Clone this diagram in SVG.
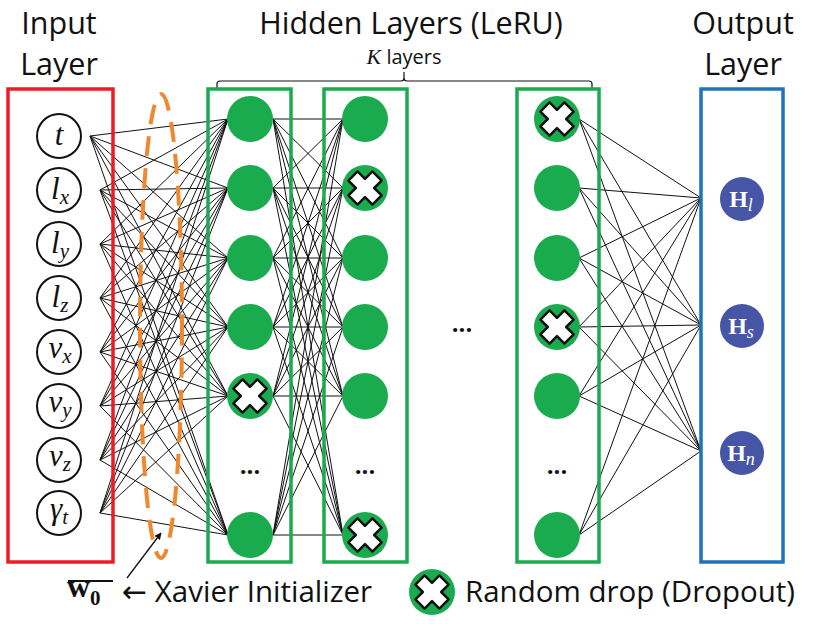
<svg xmlns="http://www.w3.org/2000/svg" xmlns:xlink="http://www.w3.org/1999/xlink" width="820" height="624" viewBox="0 0 820 624">
<style>
.title{font-family:"Open Sans","Liberation Sans",sans-serif;font-size:30.5px;fill:#111;text-anchor:middle}
.box{fill:none;stroke-width:3.5}
.inp{fill:#fff;stroke:#111;stroke-width:2}
.math{font-family:"Liberation Serif","DejaVu Serif",serif;font-style:italic;font-size:31px;fill:#111;text-anchor:middle}
.hid{fill:#19ab4e}
.out{fill:#4655a6}
.olab{font-family:"Liberation Serif","DejaVu Serif",serif;font-weight:bold;font-size:24px;fill:#fff;text-anchor:middle}
.dots{font-family:"Open Sans","Liberation Sans",sans-serif;font-weight:bold;font-size:24px;fill:#111;text-anchor:middle}
.conn path{fill:none;stroke:#111;stroke-width:1}
.txt{font-family:"Open Sans","Liberation Sans",sans-serif;font-size:29.5px;fill:#111}
</style>
<defs>
<g id="xm">
<circle r="23" fill="#19ab4e"/>
<polygon transform="rotate(45)" points="-6.5,-17 6.5,-17 6.5,-6.5 17,-6.5 17,6.5 6.5,6.5 6.5,17 -6.5,17 -6.5,6.5 -17,6.5 -17,-6.5 -6.5,-6.5" fill="#fff" stroke="#111" stroke-width="2.5" stroke-linejoin="round"/>
</g>
<marker id="ah" viewBox="0 0 10 10" refX="9" refY="5" markerWidth="7" markerHeight="7" orient="auto" markerUnits="userSpaceOnUse">
<path d="M0,0L10,5L0,10z" fill="#111"/>
</marker>
</defs>
<rect width="820" height="624" fill="#fff"/>

<!-- titles -->
<text class="title" x="59" y="34">Input</text>
<text class="title" x="59" y="75">Layer</text>
<text class="title" x="411" y="34">Hidden Layers (LeRU)</text>
<text x="404" y="64" style="font-family:'Open Sans','Liberation Sans',sans-serif;font-size:20px;fill:#111;text-anchor:middle"><tspan style="font-family:'Liberation Serif',serif;font-style:italic;font-size:22px">K</tspan> layers</text>
<text class="title" x="743" y="34">Output</text>
<text class="title" x="743" y="75">Layer</text>
<path d="M217,89V84Q217,81 220,81H401Q404,81 404,78V72M404,78Q404,81 407,81H589Q592,81 592,84V89" fill="none" stroke="#111" stroke-width="1.2"/>

<!-- connectors -->
<g class="conn" id="connectors">
<path d="M90 136L228 119M90 136L228 188M90 136L228 258M90 136L228 327M90 136L228 396M90 136L228 535"/>
<path d="M100 190L228 119M100 190L228 188M100 190L228 258M100 190L228 327M100 190L228 396M100 190L228 535"/>
<path d="M100 244L228 119M100 244L228 188M100 244L228 258M100 244L228 327M100 244L228 396M100 244L228 535"/>
<path d="M100 298L228 119M100 298L228 188M100 298L228 258M100 298L228 327M100 298L228 396M100 298L228 535"/>
<path d="M100 352L228 119M100 352L228 188M100 352L228 258M100 352L228 327M100 352L228 396M100 352L228 535"/>
<path d="M100 406L228 119M100 406L228 188M100 406L228 258M100 406L228 327M100 406L228 396M100 406L228 535"/>
<path d="M100 460L228 119M100 460L228 188M100 460L228 258M100 460L228 327M100 460L228 396M100 460L228 535"/>
<path d="M100 513L228 119M100 513L228 188M100 513L228 258M100 513L228 327M100 513L228 396M100 513L228 535"/>
<path d="M273 119L343 119M273 119L343 188M273 119L343 258M273 119L343 327M273 119L343 396M273 119L343 535"/>
<path d="M273 188L343 119M273 188L343 188M273 188L343 258M273 188L343 327M273 188L343 396M273 188L343 535"/>
<path d="M273 258L343 119M273 258L343 188M273 258L343 258M273 258L343 327M273 258L343 396M273 258L343 535"/>
<path d="M273 327L343 119M273 327L343 188M273 327L343 258M273 327L343 327M273 327L343 396M273 327L343 535"/>
<path d="M273 396L343 119M273 396L343 188M273 396L343 258M273 396L343 327M273 396L343 396M273 396L343 535"/>
<path d="M273 535L343 119M273 535L343 188M273 535L343 258M273 535L343 327M273 535L343 396M273 535L343 535"/>
<path d="M579 119L701 198M579 119L701 325M579 119L701 451"/>
<path d="M579 188L701 198M579 188L701 325M579 188L701 451"/>
<path d="M579 258L701 198M579 258L701 325M579 258L701 451"/>
<path d="M579 327L701 198M579 327L701 325M579 327L701 451"/>
<path d="M579 396L701 198M579 396L701 325M579 396L701 451"/>
<path d="M579 535L701 198M579 535L701 325M579 535L701 451"/>
</g>

<!-- layer boxes -->
<rect class="box" x="8" y="89" width="105" height="473" stroke="#ed1c24"/>
<rect class="box" x="208" y="89" width="83" height="473" stroke="#19ab4e"/>
<rect class="box" x="324" y="89" width="83" height="473" stroke="#19ab4e"/>
<rect class="box" x="517" y="89" width="82" height="473" stroke="#19ab4e"/>
<rect class="box" x="701" y="89" width="82" height="473" stroke="#1f72c0"/>

<!-- input nodes -->
<g id="in_t"><circle class="inp" cx="59" cy="136" r="22"/><text class="math" x="59" y="145">t</text></g>
<g id="in_lx"><circle class="inp" cx="59" cy="190" r="22"/><text class="math" x="60" y="199">l<tspan font-size="21" dy="5">x</tspan></text></g>
<g id="in_ly"><circle class="inp" cx="59" cy="244" r="22"/><text class="math" x="60" y="253">l<tspan font-size="21" dy="5">y</tspan></text></g>
<g id="in_lz"><circle class="inp" cx="59" cy="298" r="22"/><text class="math" x="60" y="307">l<tspan font-size="21" dy="5">z</tspan></text></g>
<g id="in_vx"><circle class="inp" cx="59" cy="352" r="22"/><text class="math" x="60" y="358">v<tspan font-size="21" dy="5">x</tspan></text></g>
<g id="in_vy"><circle class="inp" cx="59" cy="406" r="22"/><text class="math" x="60" y="412">v<tspan font-size="21" dy="5">y</tspan></text></g>
<g id="in_vz"><circle class="inp" cx="59" cy="460" r="22"/><text class="math" x="60" y="466">v<tspan font-size="21" dy="5">z</tspan></text></g>
<g id="in_gt"><circle class="inp" cx="59" cy="513" r="22"/><text class="math" x="59" y="519">γ<tspan font-size="21" dy="5">t</tspan></text></g>

<!-- hidden layer 1 -->
<g id="h1_1"><circle class="hid" cx="250" cy="119" r="23"/></g>
<g id="h1_2"><circle class="hid" cx="250" cy="188" r="23"/></g>
<g id="h1_3"><circle class="hid" cx="250" cy="258" r="23"/></g>
<g id="h1_4"><circle class="hid" cx="250" cy="327" r="23"/></g>
<g id="h1_5"><use xlink:href="#xm" x="250" y="396"/></g>
<g id="h1_dots"><text class="dots" x="250" y="474">...</text></g>
<g id="h1_6"><circle class="hid" cx="250" cy="535" r="23"/></g>

<!-- hidden layer 2 -->
<g id="h2_1"><circle class="hid" cx="365" cy="119" r="23"/></g>
<g id="h2_2"><use xlink:href="#xm" x="365" y="188"/></g>
<g id="h2_3"><circle class="hid" cx="365" cy="258" r="23"/></g>
<g id="h2_4"><circle class="hid" cx="365" cy="327" r="23"/></g>
<g id="h2_5"><circle class="hid" cx="365" cy="396" r="23"/></g>
<g id="h2_dots"><text class="dots" x="365" y="474">...</text></g>
<g id="h2_6"><use xlink:href="#xm" x="365" y="535"/></g>

<g id="mid_dots"><text class="dots" x="462" y="332">...</text></g>

<!-- last hidden layer -->
<g id="hk_1"><use xlink:href="#xm" x="557" y="119"/></g>
<g id="hk_2"><circle class="hid" cx="557" cy="188" r="23"/></g>
<g id="hk_3"><circle class="hid" cx="557" cy="258" r="23"/></g>
<g id="hk_4"><use xlink:href="#xm" x="557" y="327"/></g>
<g id="hk_5"><circle class="hid" cx="557" cy="396" r="23"/></g>
<g id="hk_dots"><text class="dots" x="557" y="474">...</text></g>
<g id="hk_6"><circle class="hid" cx="557" cy="535" r="23"/></g>

<!-- output nodes -->
<g id="out_l"><circle class="out" cx="742" cy="199" r="22"/><text class="olab" x="741" y="207">H<tspan font-weight="normal" font-style="italic" font-size="18" dy="4">l</tspan></text></g>
<g id="out_s"><circle class="out" cx="742" cy="326" r="22"/><text class="olab" x="741" y="334">H<tspan font-weight="normal" font-style="italic" font-size="18" dy="4">s</tspan></text></g>
<g id="out_n"><circle class="out" cx="742" cy="453" r="22"/><text class="olab" x="741" y="461">H<tspan font-weight="normal" font-style="italic" font-size="18" dy="4">n</tspan></text></g>

<!-- xavier ellipse -->
<g id="xavier">
<ellipse cx="161" cy="326" rx="21" ry="232" fill="none" stroke="#f0882f" stroke-width="4" stroke-dasharray="20 12"/>
<line x1="127" y1="578" x2="161" y2="533" stroke="#111" stroke-width="1.3" marker-end="url(#ah)"/>
</g>

<!-- legend -->
<g id="w0_label">
<text x="67" y="597" style="font-family:'Liberation Serif',serif;font-weight:bold;font-size:32px;fill:#111">w<tspan font-size="21" dy="8">0</tspan></text>
<line x1="68" y1="581" x2="113" y2="581" stroke="#111" stroke-width="2"/>
<text class="txt" x="122" y="602"><tspan style="font-family:'DejaVu Sans',sans-serif;font-size:30px">←</tspan> Xavier Initializer</text>
</g>
<g id="dropout_legend">
<use xlink:href="#xm" x="432" y="592"/>
<text class="txt" x="465" y="602">Random drop (Dropout)</text>
</g>
</svg>
